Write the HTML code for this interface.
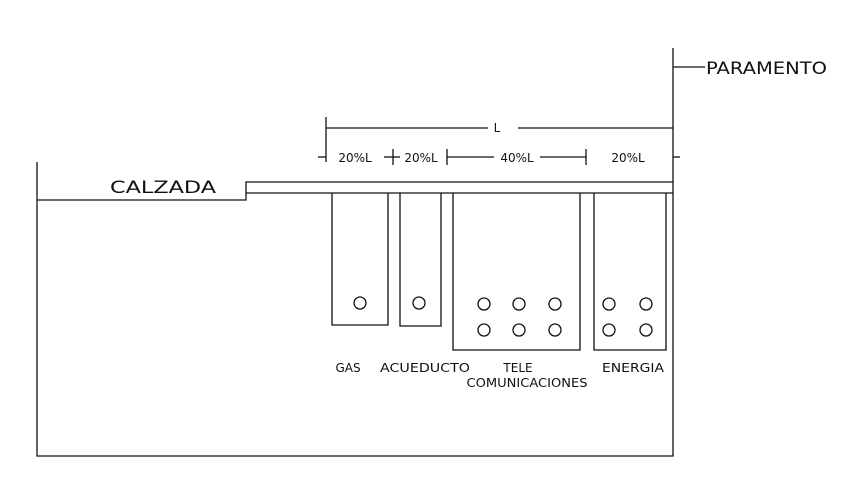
<!DOCTYPE html>
<html><head><meta charset="utf-8"><style>
html,body{margin:0;padding:0;background:#fff;width:849px;height:478px;overflow:hidden}
svg text{font-family:"DejaVu Sans","Liberation Sans",sans-serif;fill:#111}
</style></head><body>
<svg width="849" height="478" viewBox="0 0 849 478" xmlns="http://www.w3.org/2000/svg">
<g stroke="#111" stroke-width="1.3" fill="none">
<polyline points="37,162 37,456 673,456 673,48"/>
<polyline points="37,200 246,200 246,182 673,182"/>
<line x1="246" y1="193" x2="673" y2="193"/>
<polyline points="332,193 332,325 388,325 388,193"/>
<polyline points="400,193 400,326 441,326 441,193"/>
<polyline points="453,193 453,350 580,350 580,193"/>
<polyline points="594,193 594,350 666,350 666,193"/>
<line x1="673" y1="67" x2="705" y2="67"/>
<line x1="326" y1="117" x2="326" y2="162"/>
<line x1="326" y1="128" x2="488" y2="128"/>
<line x1="518" y1="128" x2="673" y2="128"/>
<line x1="318" y1="157" x2="326" y2="157"/>
<line x1="673" y1="157" x2="680" y2="157"/>
<line x1="393" y1="149" x2="393" y2="165"/>
<line x1="384" y1="157" x2="400" y2="157"/>
<line x1="447" y1="149" x2="447" y2="165"/>
<line x1="447" y1="157" x2="494" y2="157"/>
<line x1="540" y1="157" x2="586" y2="157"/>
<line x1="586" y1="149" x2="586" y2="165"/>
<circle cx="360" cy="303" r="6"/>
<circle cx="419" cy="303" r="6"/>
<circle cx="484" cy="304" r="6"/><circle cx="519" cy="304" r="6"/><circle cx="555" cy="304" r="6"/>
<circle cx="484" cy="330" r="6"/><circle cx="519" cy="330" r="6"/><circle cx="555" cy="330" r="6"/>
<circle cx="609" cy="304" r="6"/><circle cx="646" cy="304" r="6"/>
<circle cx="609" cy="330" r="6"/><circle cx="646" cy="330" r="6"/>
</g>
<text x="706" y="74" font-size="17" textLength="121" lengthAdjust="spacingAndGlyphs">PARAMENTO</text>
<text x="110" y="193" font-size="17" textLength="106" lengthAdjust="spacingAndGlyphs">CALZADA</text>
<text x="497" y="132" font-size="12" text-anchor="middle">L</text>
<text x="355" y="162" font-size="12" text-anchor="middle">20%L</text>
<text x="421" y="162" font-size="12" text-anchor="middle">20%L</text>
<text x="517" y="162" font-size="12" text-anchor="middle">40%L</text>
<text x="628" y="162" font-size="12" text-anchor="middle">20%L</text>
<text x="348" y="372" font-size="12" text-anchor="middle">GAS</text>
<text x="425" y="372" font-size="12" text-anchor="middle" textLength="90" lengthAdjust="spacingAndGlyphs">ACUEDUCTO</text>
<text x="518" y="372" font-size="12" text-anchor="middle">TELE</text>
<text x="527" y="387" font-size="12" text-anchor="middle" textLength="121" lengthAdjust="spacingAndGlyphs">COMUNICACIONES</text>
<text x="633" y="372" font-size="12" text-anchor="middle" textLength="62" lengthAdjust="spacingAndGlyphs">ENERGIA</text>
</svg>
</body></html>
